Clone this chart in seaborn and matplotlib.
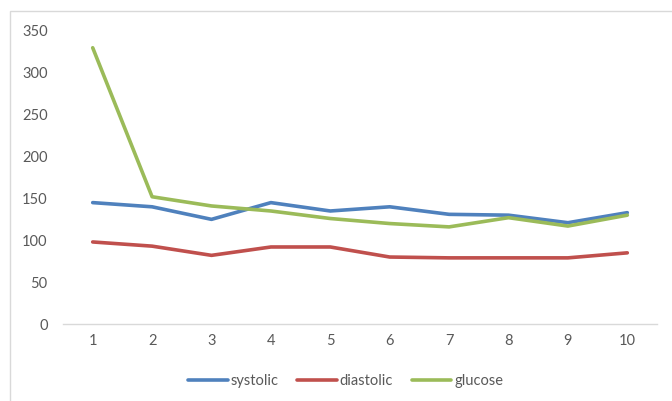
import matplotlib
matplotlib.use("Agg")
import matplotlib.pyplot as plt
from matplotlib.patches import Rectangle
import seaborn as sns
import pandas as pd

# Readings per visit
visits = [1, 2, 3, 4, 5, 6, 7, 8, 9, 10]
systolic = [145, 140, 125, 145, 135, 140, 131, 130, 121, 133]
diastolic = [98, 93, 82, 92, 92, 80, 79, 79, 79, 85]
glucose = [330, 152, 141, 135, 126, 120, 116, 127, 117, 130]
series_names = ["systolic", "diastolic", "glucose"]
y_ticks = [0, 50, 100, 150, 200, 250, 300, 350]

df = pd.DataFrame({
    "visit": visits * 3,
    "value": systolic + diastolic + glucose,
    "series": [s for s in series_names for _ in visits],
})

sns.set_theme(style="white")
plt.rcParams["font.family"] = ["Lato", "DejaVu Sans"]

palette = {"systolic": "#4F81BD", "diastolic": "#C0504D", "glucose": "#9BBB59"}
text_grey = "#595959"

fig = plt.figure(figsize=(6.72, 4.01), dpi=100)
# chart area frame
fig.patches.append(Rectangle((10 / 672, -0.1), 1.2, 1 - 11 / 401 + 0.1,
                             transform=fig.transFigure, fill=False,
                             edgecolor="#D9D9D9", linewidth=1.0))
ax = fig.add_axes([63 / 672, 77 / 401, 594 / 672, 293 / 401])

sns.lineplot(data=df, x="visit", y="value", hue="series", palette=palette,
             hue_order=series_names, linewidth=2.6, ax=ax, legend=True)

ax.set_xlim(0.5, 10.5)
ax.set_ylim(0, 350)
ax.set_xticks(visits)
ax.set_yticks(y_ticks)
ax.set_xlabel("")
ax.set_ylabel("")
for side in ["top", "right", "left"]:
    ax.spines[side].set_visible(False)
ax.spines["bottom"].set_color("#D9D9D9")
ax.spines["bottom"].set_linewidth(1.0)
ax.tick_params(axis="both", length=0, labelsize=10.5, colors=text_grey)
ax.tick_params(axis="x", pad=7)
ax.tick_params(axis="y", pad=11)

handles, labels = ax.get_legend_handles_labels()
ax.legend(handles, labels, loc="center", bbox_to_anchor=(0.476, -0.195),
          ncol=3, frameon=False, fontsize=10.5, labelcolor=text_grey,
          handlelength=2.7, handletextpad=0.2, columnspacing=1.3)

fig.savefig("out.png", dpi=100)
